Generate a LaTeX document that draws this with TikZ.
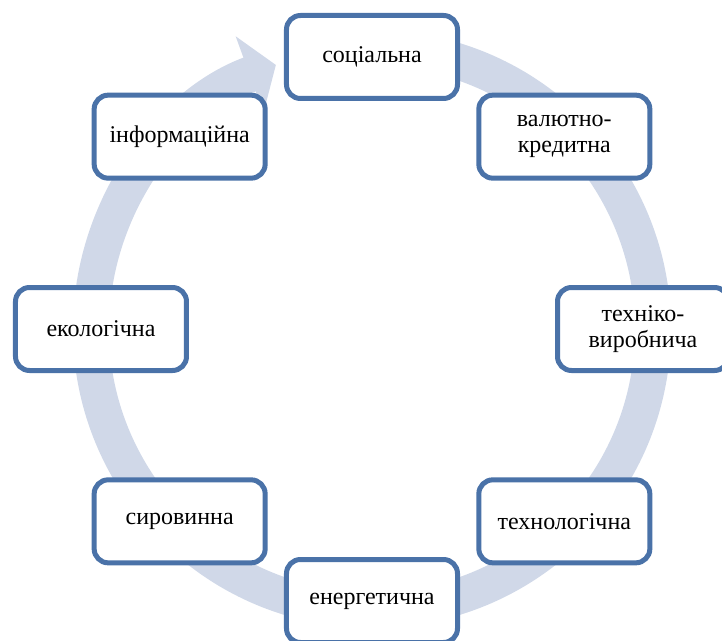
\documentclass[tikz,border=0pt]{standalone}
\usepackage{fontspec}
\setmainfont{Liberation Serif}
\usepackage{xcolor}
\usetikzlibrary{arrows.meta}
\definecolor{boxblue}{RGB}{74,114,168}
\definecolor{ringblue}{RGB}{208,216,232}

\begin{document}
\begin{tikzpicture}[
  x=1pt, y=1pt,
  box/.style={draw=boxblue,fill=white,line width=5pt,rounded corners=14pt,align=center,
    minimum width=171pt,minimum height=83pt,inner sep=4pt,font=\fontsize{24}{26}\selectfont},
  ring/.style={draw=ringblue,line width=36pt,-{Triangle[length=28pt,width=80pt]}}
]
\useasboundingbox (-372,-311) rectangle (350,329);

\draw[ring] (85:281) arc[start angle=85,end angle=-250,radius=281];

\node[box] (soc) at (90:272) {соціальна};
\node[box] (val) at (45:272) {валютно-\\кредитна};
\node[box] (teh) at (0:271) {техніко-\\виробнича};
\node[box] (tech) at (-45:272) {технологічна};
\node[box] (energ) at (-90:272) {енергетична};
\node[box] (syr) at (-135:272) {сировинна};
\node[box] (eco) at (180:271) {екологічна};
\node[box] (info) at (135:272) {інформаційна};
\end{tikzpicture}
\end{document}
